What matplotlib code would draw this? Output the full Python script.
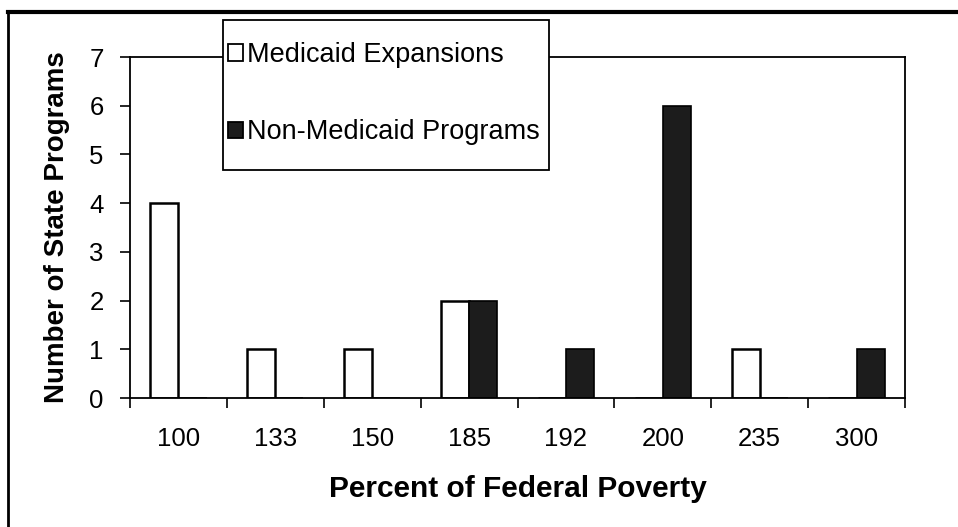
import matplotlib
matplotlib.use("Agg")
import matplotlib.pyplot as plt
import numpy as np
from matplotlib.lines import Line2D
from matplotlib.patches import Patch, Rectangle

categories = ["100", "133", "150", "185", "192", "200", "235", "300"]
medicaid = [4, 1, 1, 2, 0, 0, 1, 0]
non_medicaid = [0, 0, 0, 2, 1, 6, 0, 1]

plt.rcParams['font.family'] = ['Liberation Sans', 'DejaVu Sans']

W, H = 958, 527
fig = plt.figure(figsize=(W/100, H/100), dpi=100)
ax = fig.add_axes([130/W, 1-398/H, 775/W, (398-57)/H])

x = np.arange(len(categories))
bw = 0.29
ax.bar(x - bw/2, medicaid, bw, color='white', edgecolor='black', linewidth=1.8, label='Medicaid Expansions')
ax.bar(x + bw/2, non_medicaid, bw, color='#1c1c1c', edgecolor='black', linewidth=1.2, label='Non-Medicaid Programs')

ax.set_xlim(-0.5, len(categories) - 0.5)
ax.set_ylim(0, 7)
ax.set_yticks(range(0, 8))
ax.set_xticks(x)
ax.set_xticklabels(categories)
ax.set_xticks(np.arange(-0.5, len(categories)), minor=True)
ax.tick_params(axis='x', which='major', length=0, pad=21, labelsize=18.5)
ax.tick_params(axis='x', which='minor', length=7, width=1.2, direction='out')
ax.tick_params(axis='y', length=7, width=1.2, direction='out', labelsize=18.5, pad=12)
for s in ax.spines.values():
    s.set_linewidth(1.3)
    s.set_color('black')

ax.set_xlabel('Percent of Federal Poverty', fontsize=21.5, fontweight='bold', labelpad=17)
ax.set_ylabel('Number of State Programs', fontsize=20, fontweight='bold', labelpad=14)

# legend box (drawn in figure pixels)
fig.add_artist(Rectangle((223/W, 1-170/H), (549-223)/W, 150/H, transform=fig.transFigure,
                         facecolor='white', edgecolor='black', linewidth=1.3, zorder=5))
handles = [Patch(facecolor='white', edgecolor='black', linewidth=1.3),
           Patch(facecolor='#1c1c1c', edgecolor='black', linewidth=1.3)]
leg = fig.legend(handles, ['Medicaid Expansions', 'Non-Medicaid Programs'],
                 loc='upper left', bbox_to_anchor=(228/W, 1-42/H),
                 bbox_transform=fig.transFigure,
                 fontsize=19.5, frameon=False, handlelength=0.55, handleheight=0.55,
                 handletextpad=0.15, labelspacing=1.9, borderpad=0,
                 borderaxespad=0)
leg.set_zorder(6)

# outer border lines
fig.add_artist(Line2D([8/W, 1], [1-12/H, 1-12/H], color='black', linewidth=3, transform=fig.transFigure))
fig.add_artist(Line2D([8/W, 8/W], [0, 1-12/H], color='black', linewidth=2, transform=fig.transFigure))

fig.savefig('out.png', dpi=100)
